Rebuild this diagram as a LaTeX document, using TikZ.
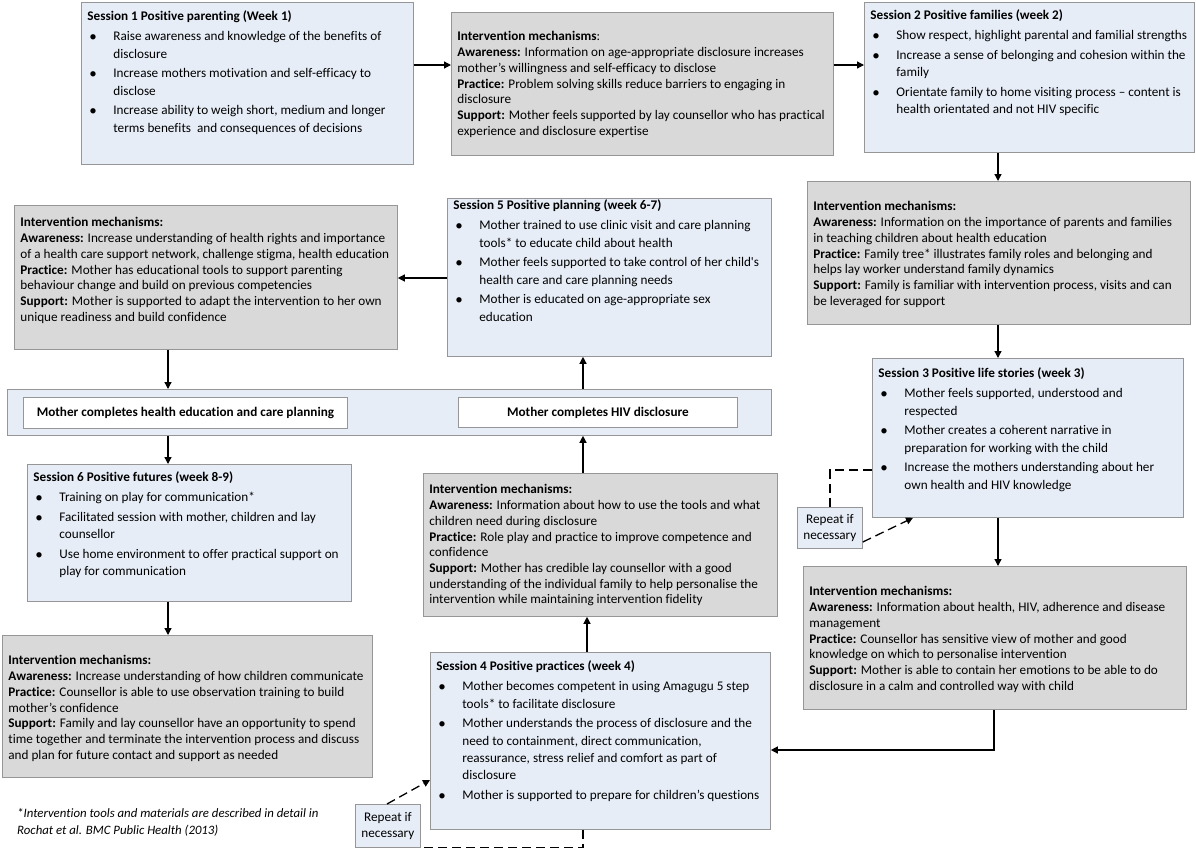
\documentclass[tikz,border=0pt]{standalone}
\usepackage{fontspec}
\setmainfont{Carlito}[Ligatures={TeX,NoCommon}]
\usetikzlibrary{arrows.meta,positioning}
\definecolor{sessblue}{RGB}{230,237,247}
\definecolor{mechgrey}{RGB}{217,217,217}
\definecolor{edgegrey}{RGB}{150,150,150}
% box body: width, height, first baseline, text
\newcommand{\boxbody}[4]{\parbox[t][#2pt][t]{#1pt}{\rightskip=0pt minus 12pt\rule{0pt}{#3pt}#4}}
\newcommand{\bitem}{\par\vspace{2.5pt}\hangindent=26pt\hangafter=1\noindent\hspace*{2pt}\makebox[24pt][l]{\raisebox{-0.6pt}{\fontsize{15}{15}\selectfont\textbullet}}}

\begin{document}
\begin{tikzpicture}[x=1pt,y=-1pt,
    sess/.style={draw=edgegrey, line width=0.8pt, fill=sessblue, anchor=north west, inner xsep=6pt, inner ysep=0pt, font=\fontsize{13.2}{17.3}\selectfont},
    mech/.style={sess, fill=mechgrey, font=\fontsize{13.2}{15.7}\selectfont},
    tag/.style={draw=edgegrey, line width=0.8pt, fill=white, anchor=north west, inner sep=0pt, font=\fontsize{13.2}{15}\selectfont\bfseries},
    rep/.style={draw=edgegrey, line width=0.8pt, fill=sessblue, anchor=north west, inner sep=0pt, align=center, minimum width=65, font=\fontsize{13.2}{16.5}\selectfont},
    arr/.style={-{Triangle[length=7pt,width=7pt]}, line width=1.3pt},
    dasharr/.style={line width=1.3pt, dash pattern=on 9pt off 5pt}]
    \useasboundingbox (0,0) rectangle (1196,849);

    % sessions and mechanisms
    \node[sess] (s1) at (81,2) {\boxbody{320}{162}{18.5}{\textbf{Session 1 Positive parenting (Week 1)}
        \bitem Raise awareness and knowledge of the benefits of\\disclosure
        \bitem Increase mothers motivation and self-efficacy to\\disclose
        \bitem Increase ability to weigh short, medium and longer\\terms benefits\ \ and consequences of decisions}};
    \node[mech] (im1) at (451,12) {\boxbody{370}{143}{28.5}{\textbf{Intervention mechanisms}:\\
        \textbf{Awareness:} Information on age-appropriate disclosure increases\\mother’s willingness and self-efficacy to disclose\\
        \textbf{Practice:} Problem solving skills reduce barriers to engaging in\\disclosure\\
        \textbf{Support:} Mother feels supported by lay counsellor who has practical\\experience and disclosure expertise}};
    \node[sess] (s2) at (864,2) {\boxbody{318}{150}{17.5}{\textbf{Session 2 Positive families (week 2)}
        \bitem Show respect, highlight parental and familial strengths
        \bitem Increase a sense of belonging and cohesion within the\\family
        \bitem Orientate family to home visiting process – content is\\health orientated and not HIV specific}};
    \node[mech] (im2) at (807,181) {\boxbody{371}{143}{29.5}{\textbf{Intervention mechanisms:}\\
        \textbf{Awareness:} Information on the importance of parents and families\\in teaching children about health education\\
        \textbf{Practice:} Family tree* illustrates family roles and belonging and\\helps lay worker understand family dynamics\\
        \textbf{Support:} Family is familiar with intervention process, visits and can\\be leveraged for support}};
    \node[sess] (s3) at (872,358) {\boxbody{299}{159}{19.5}{\textbf{Session 3 Positive life stories (week 3)}
        \bitem Mother feels supported, understood and\\respected
        \bitem Mother creates a coherent narrative in\\preparation for working with the child
        \bitem Increase the mothers understanding about her\\own health and HIV knowledge}};
    \node[mech] (im3) at (803,566) {\boxbody{371}{143}{29.5}{\textbf{Intervention mechanisms:}\\
        \textbf{Awareness:} Information about health, HIV, adherence and disease\\management\\
        \textbf{Practice:} Counsellor has sensitive view of mother and good\\knowledge on which to personalise intervention\\
        \textbf{Support:} Mother is able to contain her emotions to be able to do\\disclosure in a calm and controlled way with child}};
    \node[sess] (s4) at (430,652) {\boxbody{328}{177}{18.5}{\textbf{Session 4 Positive practices (week 4)}
        \bitem Mother becomes competent in using Amagugu 5 step\\tools* to facilitate disclosure
        \bitem Mother understands the process of disclosure and the\\need to containment, direct communication,\\reassurance, stress relief and comfort as part of\\disclosure
        \bitem Mother is supported to prepare for children’s questions}};
    \node[mech] (im4) at (423,473) {\boxbody{342}{143}{20.5}{\textbf{Intervention mechanisms:}\\
        \textbf{Awareness:} Information about how to use the tools and what\\children need during disclosure\\
        \textbf{Practice:} Role play and practice to improve competence and\\confidence\\
        \textbf{Support:} Mother has credible lay counsellor with a good\\understanding of the individual family to help personalise the\\intervention while maintaining intervention fidelity}};
    \node[sess] (s5) at (447,198) {\boxbody{312}{158}{11.5}{\textbf{Session 5 Positive planning (week 6-7)}
        \bitem Mother trained to use clinic visit and care planning\\tools* to educate child about health
        \bitem Mother feels supported to take control of her child\textquotesingle s\\health care and care planning needs
        \bitem Mother is educated on age-appropriate sex\\education}};
    \node[mech] (im5) at (14,205) {\boxbody{371}{144}{21.5}{\textbf{Intervention mechanisms:}\\
        \textbf{Awareness:} Increase understanding of health rights and importance\\of a health care support network, challenge stigma, health education\\
        \textbf{Practice:} Mother has educational tools to support parenting\\behaviour change and build on previous competencies\\
        \textbf{Support:} Mother is supported to adapt the intervention to her own\\unique readiness and build confidence}};
    \node[sess] (s6) at (27,464) {\boxbody{312}{137}{17.5}{\textbf{Session 6 Positive futures (week 8-9)}
        \bitem Training on play for communication*
        \bitem Facilitated session with mother, children and lay\\counsellor
        \bitem Use home environment to offer practical support on\\play for communication}};
    \node[mech] (im6) at (2,635) {\boxbody{358}{142}{29.5}{\textbf{Intervention mechanisms:}\\
        \textbf{Awareness:} Increase understanding of how children communicate\\
        \textbf{Practice:} Counsellor is able to use observation training to build\\mother’s confidence\\
        \textbf{Support:} Family and lay counsellor have an opportunity to spend\\time together and terminate the intervention process and discuss\\and plan for future contact and support as needed}};

    % middle band
    \node[sess, minimum width=764, minimum height=46] (band) at (7,389) {};
    \node[tag, minimum width=324, minimum height=31] (done1) at (23,397) {Mother completes health education and care planning};
    \node[tag, minimum width=279, minimum height=30] (done2) at (458,397) {Mother completes HIV disclosure};

    % repeat boxes
    \node[rep, minimum height=41] (rep1) at (797,507) {Repeat if\\necessary};
    \node[rep, minimum height=43] (rep2) at (355,804) {Repeat if\\necessary};

    \node[anchor=north west, inner sep=0pt, font=\fontsize{12.8}{17}\selectfont\itshape] (note) at (17,800) {\boxbody{340}{40}{17.5}{*Intervention tools and materials are described in detail in\\Rochat et al. BMC Public Health (2013)}};

    % connectors
    \draw[arr] (s1.east |- 0,65) -- (im1.west |- 0,65);
    \draw[arr] (im1.east |- 0,65) -- (s2.west |- 0,65);
    \draw[arr] (s2.south -| 998,0) -- (im2.north -| 998,0);
    \draw[arr] (im2.south -| 998,0) -- (s3.north -| 998,0);
    \draw[arr] (s3.south -| 998,0) -- (im3.north -| 998,0);
    \draw[arr] (im3.south -| 994,0) |- (s4.east |- 0,750);
    \draw[arr] (s4.north -| 587,0) -- (im4.south -| 587,0);
    \draw[arr] (im4.north -| 583,0) -- (band.south -| 583,0);
    \draw[arr] (band.north -| 583,0) -- (s5.south -| 583,0);
    \draw[arr] (s5.west |- 0,278) -- (im5.east |- 0,278);
    \draw[arr] (im5.south -| 168,0) -- (band.north -| 168,0);
    \draw[arr] (band.south -| 168,0) -- (s6.north -| 168,0);
    \draw[arr] (s6.south -| 168,0) -- (im6.north -| 168,0);

    % repeat loops
    \draw[dasharr] (s3.west |- 0,470) -| (rep1.north);
    \draw[dasharr, -{Triangle[length=7pt,width=7pt]}] (rep1.east |- 0,542) -- (s3.south -| 913,0);
    \draw[dasharr, -{Triangle[length=7pt,width=7pt]}] (rep2.north -| 387,0) -- (s4.west |- 0,780);
    \draw[dasharr] (s4.south -| 583,0) |- (rep2.south east);
\end{tikzpicture}
\end{document}
